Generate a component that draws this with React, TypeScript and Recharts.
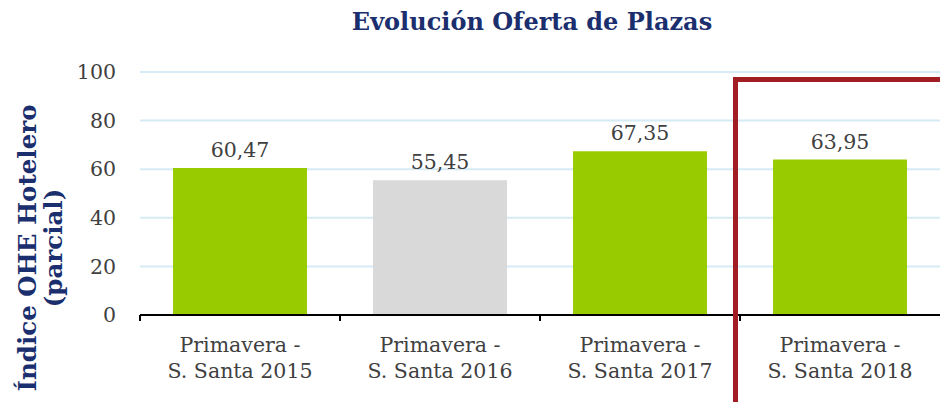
import React from 'react';
import { BarChart, Bar, XAxis, YAxis, CartesianGrid, Cell, LabelList } from 'recharts';

const categories = ['Primavera -|S. Santa 2015', 'Primavera -|S. Santa 2016', 'Primavera -|S. Santa 2017', 'Primavera -|S. Santa 2018'];
const values = [60.47, 55.45, 67.35, 63.95];
const barColors = ['#99CC00', '#D9D9D9', '#99CC00', '#99CC00'];
const yTicks = [0, 20, 40, 60, 80, 100];

const W = 940;
const H = 402;
const PLOT_LEFT = 140;
const PLOT_W = W - PLOT_LEFT;
const FONT = '"DejaVu Serif", Georgia, serif';
const NAVY = '#1B2F6E';
const TEXT = '#404040';

const data = categories.map((c, i) => ({ name: c, value: values[i], color: barColors[i] }));

const fmt = (v: number) => v.toFixed(2).replace('.', ',');

// two-line category label plus a tick mark on the left boundary of each category
const CategoryTick = ({ x, y, payload }: any) => {
  const band = PLOT_W / categories.length;
  const [l1, l2] = String(payload.value).split('|');
  return (
    <g>
      <line x1={x - band / 2} x2={x - band / 2} y1={y} y2={y + 6} stroke="#000" strokeWidth={2} />
      <text x={x} y={y + 37} textAnchor="middle" fontSize={20.5} fill={TEXT} fontFamily={FONT}>{l1}</text>
      <text x={x} y={y + 63} textAnchor="middle" fontSize={20.5} fill={TEXT} fontFamily={FONT}>{l2}</text>
    </g>
  );
};

const YTitle = () => (
  <g fontFamily={FONT} fontWeight="bold" fontSize={24.5} fill={NAVY}>
    <text x={36} y={248} textAnchor="middle" transform="rotate(-90, 36, 248)">Índice OHE Hotelero</text>
    <text x={62} y={248} textAnchor="middle" transform="rotate(-90, 62, 248)">(parcial)</text>
  </g>
);

export default function App() {
  return (
    <div style={{ position: 'absolute', left: 0, top: 0, width: W, height: H, background: '#fff', overflow: 'hidden' }}>
      <div
        style={{
          position: 'absolute', left: PLOT_LEFT, top: 7, width: PLOT_W - 16, textAlign: 'center',
          fontFamily: FONT, fontWeight: 'bold', fontSize: 24, color: NAVY,
        }}
      >
        Evolución Oferta de Plazas
      </div>
      <BarChart
        width={W}
        height={H}
        data={data}
        margin={{ top: 72, right: 0, left: 50, bottom: 0 }}
        barCategoryGap="16.5%"
      >
        <CartesianGrid vertical={false} stroke="#D6EBF5" strokeWidth={2} />
        <XAxis
          dataKey="name"
          height={87}
          axisLine={{ stroke: '#000', strokeWidth: 2 }}
          tickLine={false}
          tickSize={0}
          tickMargin={0}
          interval={0}
          tick={<CategoryTick />}
        />
        <YAxis
          width={90}
          domain={[0, 100]}
          ticks={yTicks}
          axisLine={false}
          tickLine={false}
          tickSize={6}
          tickMargin={18}
          tick={{ fontSize: 20.5, fill: TEXT, fontFamily: FONT }}
          label={{ content: () => <YTitle /> }}
        />
        <Bar dataKey="value" isAnimationActive={false}>
          {data.map((d, i) => (
            <Cell key={i} fill={d.color} />
          ))}
          <LabelList
            dataKey="value"
            position="top"
            offset={11}
            formatter={(v: any) => fmt(Number(v))}
            style={{ fontSize: 20.5, fill: TEXT, fontFamily: FONT }}
          />
        </Bar>
      </BarChart>
      {/* red highlight frame around the last period */}
      <div
        style={{
          position: 'absolute', left: 733, top: 77, width: 220, height: 340,
          borderLeft: '5px solid #A11F24', borderTop: '5px solid #A11F24',
        }}
      />
    </div>
  );
}
